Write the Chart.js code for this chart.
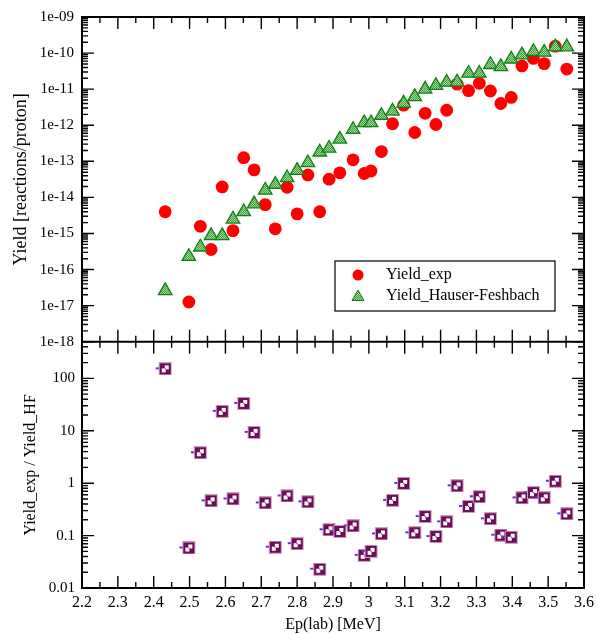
<!DOCTYPE html>
<html>
<head>
<meta charset="utf-8">
<script src="https://cdn.jsdelivr.net/npm/chart.js@4.4.1/dist/chart.umd.min.js"></script>
<style>
  html, body { margin: 0; padding: 0; background: #fff; }
  #wrap { width: 599px; height: 634px; }
</style>
</head>
<body>
<div id="wrap"><canvas id="yieldChart" width="599" height="634"></canvas></div>
<script>
// beam energies (MeV), same for all three series
const energies = [2.432, 2.498, 2.530, 2.560, 2.591, 2.621, 2.651, 2.680, 2.711, 2.739,
  2.772, 2.800, 2.830, 2.863, 2.889, 2.919, 2.956, 2.987, 3.006, 3.035,
  3.066, 3.097, 3.128, 3.157, 3.187, 3.217, 3.246, 3.278, 3.308, 3.339,
  3.368, 3.397, 3.427, 3.459, 3.489, 3.520, 3.552];

const yieldExp = [4.0e-15, 1.26e-17, 1.58e-15, 3.6e-16, 1.95e-14, 1.2e-15, 1.26e-13, 5.8e-14, 6.3e-15, 1.35e-15,
  1.9e-14, 3.5e-15, 4.2e-14, 4.0e-15, 3.2e-14, 4.8e-14, 1.1e-13, 4.6e-14, 5.4e-14, 1.86e-13,
  1.1e-12, 3.6e-12, 6.3e-13, 2.14e-12, 1.05e-12, 2.6e-12, 1.38e-11, 9.1e-12, 1.45e-11, 8.9e-12,
  4.0e-12, 5.9e-12, 4.4e-11, 7.1e-11, 5.1e-11, 1.55e-10, 3.6e-11];

const yieldHF = [2.6e-17, 2.3e-16, 4.2e-16, 8.7e-16, 8.7e-16, 2.5e-15, 4.0e-15, 6.6e-15, 1.58e-14, 2.3e-14,
  3.5e-14, 5.6e-14, 9.1e-14, 1.8e-13, 2.3e-13, 4.1e-13, 7.6e-13, 1.17e-12, 1.17e-12, 1.86e-12,
  2.45e-12, 4.1e-12, 6.2e-12, 1.0e-11, 1.26e-11, 1.55e-11, 1.58e-11, 2.75e-11, 2.75e-11, 4.8e-11,
  4.2e-11, 6.8e-11, 8.9e-11, 1.1e-10, 1.05e-10, 1.48e-10, 1.48e-10];

const yieldRatio = [152, 0.058, 3.8, 0.46, 23.5, 0.50, 33.3, 9.3, 0.42, 0.060,
  0.57, 0.070, 0.44, 0.0228, 0.129, 0.12, 0.153, 0.042, 0.050, 0.108,
  0.47, 0.99, 0.113, 0.231, 0.096, 0.183, 0.89, 0.36, 0.55, 0.209,
  0.102, 0.093, 0.525, 0.66, 0.525, 1.09, 0.26];

const xTicks = [2.2, 2.3, 2.4, 2.5, 2.6, 2.7, 2.8, 2.9, 3.0, 3.1, 3.2, 3.3, 3.4, 3.5, 3.6];
const xTickLabels = ['2.2', '2.3', '2.4', '2.5', '2.6', '2.7', '2.8', '2.9', '3', '3.1', '3.2', '3.3', '3.4', '3.5', '3.6'];
const yieldTicks = [1e-18, 1e-17, 1e-16, 1e-15, 1e-14, 1e-13, 1e-12, 1e-11, 1e-10, 1e-9];
const yieldTickLabels = ['1e-18', '1e-17', '1e-16', '1e-15', '1e-14', '1e-13', '1e-12', '1e-11', '1e-10', '1e-09'];
const ratioTicks = [0.01, 0.1, 1, 10, 100];
const ratioTickLabels = ['0.01', '0.1', '1', '10', '100'];

const SERIF = "'Liberation Serif', 'DejaVu Serif', serif";
const canvas = document.getElementById('yieldChart');
const ctx = canvas.getContext('2d');

// hatched green fill for the triangles
function makeGreenPattern() {
  const c = document.createElement('canvas');
  c.width = 2; c.height = 2;
  const g = c.getContext('2d');
  g.fillStyle = '#a2d89e';
  g.fillRect(0, 0, 2, 2);
  g.fillStyle = '#3c9e3c';
  g.fillRect(0, 0, 1, 1);
  g.fillRect(1, 1, 1, 1);
  return ctx.createPattern(c, 'repeat');
}

// checkered square with the little violet dash on its left
function makeRatioMarker() {
  const c = document.createElement('canvas');
  c.width = 25; c.height = 13;
  const g = c.getContext('2d');
  g.fillStyle = '#6a2fd0';
  g.fillRect(3, 5, 3, 2);
  g.fillStyle = '#c99fbd';
  g.fillRect(6, 0, 13, 13);
  g.fillStyle = '#6e0c58';
  g.fillRect(7, 1, 11, 11);
  g.fillStyle = '#fff';
  g.fillRect(9, 3, 7, 7);
  g.fillStyle = '#6e0c58';
  g.fillRect(9, 3, 3, 3);
  g.fillRect(13, 7, 3, 3);
  g.fillRect(12, 6, 1, 1);
  return c;
}

const greenFill = makeGreenPattern();

const frameTicks = {
  id: 'frameTicks',
  beforeDatasetsDraw(chart) {
    const c = chart.ctx;
    const { left, right, top, bottom } = chart.chartArea;
    const xs = chart.scales.x;
    const panels = [chart.scales.yYield, chart.scales.yRatio];
    const major = 12, minor = 6;
    c.save();
    c.strokeStyle = '#000';
    c.lineWidth = 1.4;
    c.beginPath();
    panels.forEach(ys => {
      const pt = ys.top, pb = ys.bottom;
      // x ticks, inward on top and bottom edge of each panel
      xTicks.forEach((v, i) => {
        const px = xs.getPixelForValue(v);
        c.moveTo(px, pt); c.lineTo(px, pt + major);
        c.moveTo(px, pb); c.lineTo(px, pb - major);
        if (i < xTicks.length - 1) {
          const mx = xs.getPixelForValue((v + xTicks[i + 1]) / 2);
          c.moveTo(mx, pt); c.lineTo(mx, pt + minor);
          c.moveTo(mx, pb); c.lineTo(mx, pb - minor);
        }
      });
      // log y ticks, inward on left and right
      const lo = Math.log10(ys.min), hi = Math.log10(ys.max);
      for (let d = Math.floor(lo); d <= Math.ceil(hi); d++) {
        for (let k = 1; k <= 9; k++) {
          const v = k * Math.pow(10, d);
          const lv = Math.log10(v);
          if (lv < lo - 1e-9 || lv > hi + 1e-9) continue;
          const py = ys.getPixelForValue(v);
          const len = k === 1 ? major : minor;
          c.moveTo(left, py); c.lineTo(left + len, py);
          c.moveTo(right, py); c.lineTo(right - len, py);
        }
      }
    });
    c.stroke();
    c.lineWidth = 2;
    c.strokeRect(left, top, right - left, bottom - top);
    c.beginPath();
    c.moveTo(left, chart.scales.yYield.bottom);
    c.lineTo(right, chart.scales.yYield.bottom);
    c.stroke();
    c.restore();
  }
};

const boxLegend = {
  id: 'boxLegend',
  afterDatasetsDraw(chart) {
    const c = chart.ctx;
    const bx = 335, by = 261, bw = 220, bh = 50;
    c.save();
    c.fillStyle = '#fff';
    c.fillRect(bx, by, bw, bh);
    c.strokeStyle = '#000';
    c.lineWidth = 1.2;
    c.strokeRect(bx, by, bw, bh);
    // circle
    c.fillStyle = '#ff0000';
    c.beginPath();
    c.arc(358, 275, 5.5, 0, Math.PI * 2);
    c.fill();
    // triangle
    c.beginPath();
    c.moveTo(358, 290);
    c.lineTo(364, 300.5);
    c.lineTo(352, 300.5);
    c.closePath();
    c.fillStyle = greenFill;
    c.fill();
    c.strokeStyle = '#138013';
    c.lineWidth = 1;
    c.stroke();
    c.fillStyle = '#000';
    c.font = '16px ' + SERIF;
    c.textBaseline = 'middle';
    c.fillText(chart.data.datasets[0].label, 386, 275);
    c.fillText(chart.data.datasets[1].label, 386, 296);
    c.restore();
  }
};

new Chart(canvas, {
  type: 'scatter',
  data: {
    datasets: [{
      label: 'Yield_exp',
      data: energies.map((e, i) => ({ x: e, y: yieldExp[i] })),
      yAxisID: 'yYield',
      order: 2,
      pointStyle: 'circle',
      pointRadius: 6.4,
      backgroundColor: '#ff0000',
      borderColor: '#ff0000',
      borderWidth: 0
    }, {
      label: 'Yield_Hauser-Feshbach',
      data: energies.map((e, i) => ({ x: e, y: yieldHF[i] })),
      yAxisID: 'yYield',
      order: 1,
      pointStyle: 'triangle',
      pointRadius: 7.8,
      backgroundColor: greenFill,
      borderColor: '#138013',
      borderWidth: 1.3
    }, {
      label: 'Yield_exp / Yield_HF',
      data: energies.map((e, i) => ({ x: e, y: yieldRatio[i] })),
      yAxisID: 'yRatio',
      order: 0,
      pointStyle: makeRatioMarker(),
      pointRadius: 6
    }]
  },
  options: {
    responsive: false,
    animation: false,
    devicePixelRatio: 1,
    layout: { padding: { top: 13, right: 11, left: 0, bottom: 0 } },
    plugins: {
      legend: { display: false },
      tooltip: { enabled: false }
    },
    scales: {
      x: {
        type: 'linear',
        position: 'bottom',
        min: 2.2,
        max: 3.6,
        afterBuildTicks: s => { s.ticks = xTicks.map(v => ({ value: v })); },
        afterFit: s => { s.height = 46; },
        grid: { display: false, drawTicks: false },
        border: { display: false },
        ticks: {
          autoSkip: false,
          maxRotation: 0,
          padding: 5,
          color: '#000',
          font: { family: SERIF, size: 16 },
          callback: (v, i) => xTickLabels[i]
        },
        title: {
          display: true,
          text: 'Ep(lab) [MeV]',
          color: '#000',
          font: { family: SERIF, size: 16 },
          padding: { top: 0, bottom: 0 }
        }
      },
      yRatio: {
        type: 'logarithmic',
        position: 'left',
        stack: 'panels',
        stackWeight: 248,
        min: 0.01,
        max: 500,
        afterBuildTicks: s => { s.ticks = ratioTicks.map(v => ({ value: v })); },
        afterFit: s => { s.width = 82; },
        grid: { display: false, drawTicks: false },
        border: { display: false },
        ticks: {
          autoSkip: false,
          padding: 7,
          color: '#000',
          font: { family: SERIF, size: 15 },
          callback: (v, i) => ratioTickLabels[i]
        },
        title: {
          display: true,
          text: 'Yield_exp / Yield_HF',
          color: '#000',
          font: { family: SERIF, size: 16 },
          padding: { top: 21, bottom: 0 }
        }
      },
      yYield: {
        type: 'logarithmic',
        position: 'left',
        stack: 'panels',
        stackWeight: 327,
        min: 1e-18,
        max: 1e-9,
        afterBuildTicks: s => { s.ticks = yieldTicks.map(v => ({ value: v })); },
        afterFit: s => { s.width = 82; },
        grid: { display: false, drawTicks: false },
        border: { display: false },
        ticks: {
          autoSkip: false,
          padding: 8,
          color: '#000',
          font: { family: SERIF, size: 15 },
          callback: (v, i) => yieldTickLabels[i]
        },
        title: {
          display: true,
          text: 'Yield [reactions/proton]',
          color: '#000',
          font: { family: SERIF, size: 18 },
          padding: { top: 10, bottom: 0 }
        }
      }
    }
  },
  plugins: [frameTicks, boxLegend]
});
</script>
</body>
</html>
